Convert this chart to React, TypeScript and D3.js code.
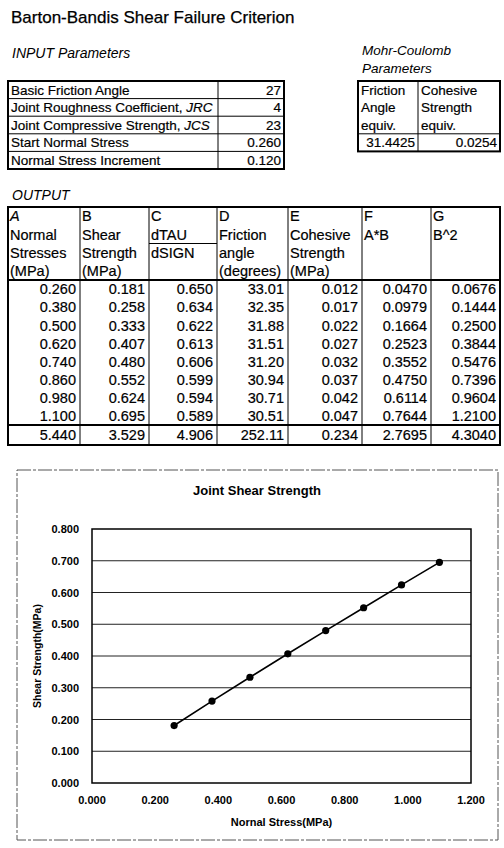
import React from 'react'
import * as d3 from 'd3'

const FONT = "'Liberation Sans', Arial, Helvetica, sans-serif"

// INPUT parameters
const inputLabels = ['Basic Friction Angle', 'Joint Roughness Coefficient, ', 'Joint Compressive Strength, ', 'Start Normal Stress', 'Normal Stress Increment']
const inputItalic = ['', 'JRC', 'JCS', '', '']
const inputValues = ['27', '4', '23', '0.260', '0.120']

// Mohr-Coulomb parameters
const mohrHeads = [['Friction', 'Angle', 'equiv.'], ['Cohesive', 'Strength', 'equiv.']]
const mohrValues = [31.4425, 0.0254]

// OUTPUT table
const colHeads = [
	['A', 'Normal', 'Stresses', '(MPa)'],
	['B', 'Shear', 'Strength', '(MPa)'],
	['C', 'dTAU', 'dSIGN'],
	['D', 'Friction', 'angle', '(degrees)'],
	['E', 'Cohesive', 'Strength', '(MPa)'],
	['F', 'A*B'],
	['G', 'B^2']
]
const normalStress = [0.26, 0.38, 0.5, 0.62, 0.74, 0.86, 0.98, 1.1]
const shearStrength = [0.181, 0.258, 0.333, 0.407, 0.48, 0.552, 0.624, 0.695]
const dTauDSig = [0.65, 0.634, 0.622, 0.613, 0.606, 0.599, 0.594, 0.589]
const frictionAngle = [33.01, 32.35, 31.88, 31.51, 31.2, 30.94, 30.71, 30.51]
const cohesion = [0.012, 0.017, 0.022, 0.027, 0.032, 0.037, 0.042, 0.047]
const aTimesB = [0.047, 0.0979, 0.1664, 0.2523, 0.3552, 0.475, 0.6114, 0.7644]
const bSquared = [0.0676, 0.1444, 0.25, 0.3844, 0.5476, 0.7396, 0.9604, 1.21]
const totals = [5.44, 3.529, 4.906, 252.11, 0.234, 2.7695, 4.304]
const colFormats = ['.3f', '.3f', '.3f', '.2f', '.3f', '.4f', '.4f']

// chart
const xTicks = [0, 0.2, 0.4, 0.6, 0.8, 1.0, 1.2]
const yTicks = [0, 0.1, 0.2, 0.3, 0.4, 0.5, 0.6, 0.7, 0.8]

const Chart = () => {
	const columns = [normalStress, shearStrength, dTauDSig, frictionAngle, cohesion, aTimesB, bSquared]

	// table geometry
	const inX = [8, 218, 284]
	const inRow = d3.scaleLinear().domain([0, 5]).range([81, 169])
	const mcX = [358, 418, 500]
	const colX = [8, 80, 149, 217, 288, 362, 431, 500]
	const headTop = 207
	const headY = d3.scaleLinear().domain([0, 4]).range([headTop, 280])
	const rowY = d3.scaleLinear().domain([0, 8]).range([280, 425])
	const tableBottom = 445

	// chart geometry
	const x = d3.scaleLinear().domain([0, 1.2]).range([92, 471])
	const y = d3.scaleLinear().domain([0, 0.8]).range([783, 529])
	const pts = normalStress.map((d, i) => [d, shearStrength[i]] as [number, number])
	const line = d3
		.line<[number, number]>()
		.x(d => x(d[0]))
		.y(d => y(d[1]))

	const fs = 13.5
	const ofs = 14.5
	const mid = (a: number, b: number) => (a + b) / 2 + fs * 0.36

	return (
		<svg
			width={504}
			height={848}
			style={{ position: 'absolute', left: 0, top: 0, background: '#fff' }}
			fontFamily={FONT}
		>
			<text x={11} y={23} fontSize={17} stroke="#000" strokeWidth={0.25}>
				Barton-Bandis Shear Failure Criterion
			</text>

			{/* input table */}
			<text x={12} y={58} fontSize={14} fontStyle="italic">
				INPUT Parameters
			</text>
			<g fontSize={fs} stroke="none">
				{inputLabels.map((t, i) => (
					<g key={i}>
						<text x={inX[0] + 3} y={mid(inRow(i), inRow(i + 1))} stroke="#000" strokeWidth={0.2}>
							{t}
							{inputItalic[i] && <tspan fontStyle="italic">{inputItalic[i]}</tspan>}
						</text>
						<text x={inX[2] - 3} y={mid(inRow(i), inRow(i + 1))} textAnchor="end" stroke="#000" strokeWidth={0.2}>
							{inputValues[i]}
						</text>
						{i > 0 && <line x1={inX[0]} x2={inX[2]} y1={inRow(i)} y2={inRow(i)} stroke="#000" />}
					</g>
				))}
				<line x1={inX[1]} x2={inX[1]} y1={inRow(0)} y2={inRow(5)} stroke="#000" />
				<rect x={inX[0]} y={inRow(0)} width={inX[2] - inX[0]} height={inRow(5) - inRow(0)} fill="none" stroke="#000" strokeWidth={2} />
			</g>

			{/* mohr-coulomb table */}
			<g fontSize={fs}>
				<text x={362} y={55} fontSize={13.5} fontStyle="italic">
					Mohr-Coulomb
				</text>
				<text x={362} y={73} fontSize={13.5} fontStyle="italic">
					Parameters
				</text>
				{mohrHeads.map((lines, c) => (
					<g key={c}>
						{lines.map((t, k) => (
							<text key={k} x={mcX[c] + 3} y={mid(inRow(k), inRow(k + 1))} stroke="#000" strokeWidth={0.2}>
								{t}
							</text>
						))}
						<text x={mcX[c + 1] - 3} y={mid(inRow(3), inRow(4))} textAnchor="end" stroke="#000" strokeWidth={0.2}>
							{d3.format('.4f')(mohrValues[c])}
						</text>
					</g>
				))}
				<line x1={mcX[0]} x2={mcX[2]} y1={inRow(3)} y2={inRow(3)} stroke="#000" />
				<line x1={mcX[1]} x2={mcX[1]} y1={inRow(0)} y2={inRow(4)} stroke="#000" />
				<rect x={mcX[0]} y={inRow(0)} width={mcX[2] - mcX[0]} height={inRow(4) - inRow(0)} fill="none" stroke="#000" strokeWidth={2} />
			</g>

			{/* output table */}
			<text x={12} y={200} fontSize={14} fontStyle="italic">
				OUTPUT
			</text>
			<g fontSize={ofs}>
				{colHeads.map((lines, c) =>
					lines.map((t, k) => (
						<text
							key={c + '-' + k}
							x={colX[c] + 2}
							y={(headY(k) + headY(k + 1)) / 2 + ofs * 0.36}
							fontStyle={c === 0 && k === 0 ? 'italic' : 'normal'}
							stroke="#000"
							strokeWidth={0.2}
						>
							{t}
						</text>
					))
				)}
				{columns.map((col, c) => (
					<g key={c} stroke="#000" strokeWidth={0.2}>
						{col.map((v, i) => (
							<text key={i} x={colX[c + 1] - 4} y={(rowY(i) + rowY(i + 1)) / 2 + ofs * 0.36} textAnchor="end">
								{d3.format(colFormats[c])(v)}
							</text>
						))}
						<text x={colX[c + 1] - 4} y={(rowY(8) + tableBottom) / 2 + ofs * 0.36} textAnchor="end">
							{d3.format(colFormats[c])(totals[c])}
						</text>
					</g>
				))}
				{colX.slice(1, -1).map((cx, i) => (
					<line key={i} x1={cx} x2={cx} y1={headTop} y2={tableBottom} stroke="#000" />
				))}
				<line x1={colX[2]} x2={colX[3]} y1={headY(2)} y2={headY(2)} stroke="#000" />
				<line x1={colX[0]} x2={colX[7]} y1={rowY(0)} y2={rowY(0)} stroke="#000" strokeWidth={2} />
				<line x1={colX[0]} x2={colX[7]} y1={rowY(8)} y2={rowY(8)} stroke="#000" strokeWidth={2} />
				<rect x={colX[0]} y={headTop} width={colX[7] - colX[0]} height={tableBottom - headTop} fill="none" stroke="#000" strokeWidth={2} />
			</g>

			{/* chart */}
			<rect x={17} y={470} width={481} height={370} fill="#fff" stroke="#555" strokeWidth={1} strokeDasharray="14 2 3 2" />
			<text x={257} y={495} fontSize={13} fontWeight="bold" textAnchor="middle">
				Joint Shear Strength
			</text>
			<g>
				{yTicks.slice(1, -1).map(t => (
					<line key={t} x1={x(0)} x2={x(1.2)} y1={y(t)} y2={y(t)} stroke="#222" strokeWidth={1} />
				))}
				<rect x={x(0)} y={y(0.8)} width={x(1.2) - x(0)} height={y(0) - y(0.8)} fill="none" stroke="#000" strokeWidth={1.5} />
			</g>
			<g fontSize={11} fontWeight="bold">
				{yTicks.map(t => (
					<text key={t} x={x(0) - 13} y={y(t) + 4} textAnchor="end">
						{d3.format('.3f')(t)}
					</text>
				))}
				{xTicks.map(t => (
					<text key={t} x={x(t)} y={804} textAnchor="middle">
						{d3.format('.3f')(t)}
					</text>
				))}
			</g>
			<text x={x(0.6)} y={826} fontSize={11} fontWeight="bold" textAnchor="middle">
				Nornal Stress(MPa)
			</text>
			<text transform={`translate(41, ${(y(0) + y(0.8)) / 2}) rotate(-90)`} fontSize={10.5} fontWeight="bold" textAnchor="middle">
				Shear Strength(MPa)
			</text>
			<path d={line(pts) || ''} fill="none" stroke="#000" strokeWidth={1.6} />
			{pts.map((p, i) => (
				<circle key={i} cx={x(p[0])} cy={y(p[1])} r={3.6} fill="#000" />
			))}
		</svg>
	)
}

export default function App() {
	return <Chart />
}
